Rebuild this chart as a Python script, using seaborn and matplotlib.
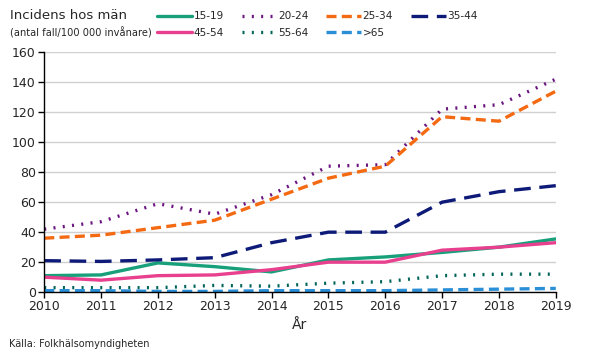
import matplotlib
matplotlib.use("Agg")
import matplotlib.pyplot as plt
import seaborn as sns
import pandas as pd

years = list(range(2010, 2020))
g15_19 = [11, 11.5, 19.5, 17, 13.5, 21.5, 23.5, 26.5, 30, 35.5]
g20_24 = [42, 47, 59, 52, 65, 84, 85, 122, 125, 142]
g25_34 = [36, 38, 43, 48, 62, 76, 84, 117, 114, 134]
g35_44 = [21, 20.5, 21.5, 23, 33, 40, 40, 60, 67, 71]
g45_54 = [10, 8, 11, 11.5, 15, 20, 20, 28, 30, 33]
g55_64 = [3, 3, 3, 4.5, 4, 6, 7, 11, 12, 12]
g65 = [1, 1, 0.5, 0.5, 1, 1, 1, 1.5, 2, 2.5]

groups = ["15-19", "20-24", "25-34", "35-44", "45-54", "55-64", ">65"]
series = [g15_19, g20_24, g25_34, g35_44, g45_54, g55_64, g65]

df = pd.concat([pd.DataFrame({"year": years, "value": v, "group": g})
                for g, v in zip(groups, series)])

palette = {"15-19": "#17a07a", "20-24": "#6b1580", "25-34": "#f46a12",
           "35-44": "#0d1a78", "45-54": "#e8408f", "55-64": "#006458",
           ">65": "#2a8fd6"}
dashes = {"15-19": "", "20-24": (0.6, 2.2), "25-34": (3, 1.6),
          "35-44": (5, 2.6), "45-54": "", "55-64": (0.6, 2.2),
          ">65": (3, 1.6)}

sns.set_theme(style="white")
plt.rcParams["font.family"] = ["DejaVu Sans"]

fig = plt.figure(figsize=(5.9, 3.55), dpi=100)
ax = fig.add_axes([0.075, 0.177, 0.867, 0.676])

sns.lineplot(data=df, x="year", y="value", hue="group", style="group",
             palette=palette, dashes=dashes, linewidth=2.4, ax=ax,
             hue_order=groups, style_order=groups)

ax.set_xlim(2010, 2019)
ax.set_ylim(0, 160)
ax.set_xticks(years)
ax.set_yticks(range(0, 161, 20))
ax.tick_params(axis="both", labelsize=9, length=4, width=1, color="black",
               direction="out", bottom=True, left=True, pad=2)
ax.yaxis.grid(True, color="#d0d0d0", linewidth=1)
ax.set_axisbelow(True)
for s in ["top", "right"]:
    ax.spines[s].set_visible(False)
for s in ["left", "bottom"]:
    ax.spines[s].set_color("black")
    ax.spines[s].set_linewidth(1)
ax.set_xlabel("År", fontsize=10, labelpad=3)
ax.set_ylabel("")

# legend filled row by row like the original
handles, labels = ax.get_legend_handles_labels()
lut = dict(zip(labels, handles))
order = ["15-19", "45-54", "20-24", "55-64", "25-34", ">65", "35-44"]
ax.get_legend().remove()
fig.legend([lut[k] for k in order], order, ncol=4, loc="upper left",
           bbox_to_anchor=(0.266, 0.968), frameon=False, fontsize=7.6,
           handlelength=3.3, handletextpad=0.15, columnspacing=1.7,
           labelspacing=0.6, borderaxespad=0, borderpad=0)

fig.text(0.017, 0.957, "Incidens hos män", fontsize=9.5, va="center")
fig.text(0.017, 0.907, "(antal fall/100 000 invånare)", fontsize=7.1,
         va="center")
fig.text(0.015, 0.022, "Källa: Folkhälsomyndigheten", fontsize=7)

fig.savefig("out.png", dpi=100)
